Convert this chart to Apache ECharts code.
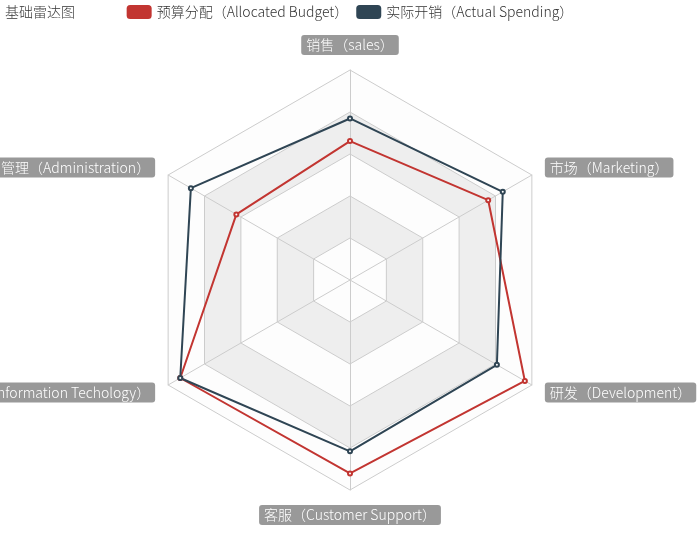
<!DOCTYPE html>
<html><head><meta charset="utf-8">
<script src="https://cdn.jsdelivr.net/npm/echarts@6/dist/echarts.min.js"></script>
<style>html,body{margin:0;padding:0;background:#fff}#c{width:700px;height:560px}</style>
</head><body><div id="c"></div>
<script>
const indicatorNames = ['销售（sales）','管理（Administration）','信息技术（Information Techology）','客服（Customer Support）','研发（Development）','市场（Marketing）'];
const indicatorMax = [6500, 16000, 30000, 38000, 52000, 25000];
const budget = [4300, 10000, 28000, 35000, 50000, 19000];
const spending = [5000, 14000, 28000, 31000, 42000, 21000];
const seriesNames = ['预算分配（Allocated Budget）','实际开销（Actual Spending）'];
const chart = echarts.init(document.getElementById('c'));
chart.setOption({
  color: ['#c23531','#2f4554'],
  textStyle: {fontFamily: 'Noto Sans CJK SC', fontWeight: 300},
  title: {text: '基础雷达图', left: 0, top: 0, textStyle: {fontSize: 14, fontWeight: 300, color: '#333'}},
  legend: {data: seriesNames, top: 0, itemWidth: 25, itemHeight: 14, textStyle: {fontSize: 14, color: '#333'}},
  radar: {
    center: ['50%', '50%'],
    radius: 210,
    indicator: indicatorNames.map((n,i)=>({name:n, max: indicatorMax[i]})),
    axisName: {color:'#fff', backgroundColor:'#999', borderRadius:3, padding:[3,5], fontSize: 14},
    splitArea: {areaStyle: {color: ['rgba(250,250,250,0.3)','rgba(200,200,200,0.3)']}},
    splitLine: {lineStyle: {color: '#ccc'}},
    axisLine: {lineStyle: {color: '#ccc'}}
  },
  series: [{
    type: 'radar',
    symbol: 'emptyCircle', symbolSize: 4,
    lineStyle: {width: 2},
    data: [
      {value: budget, name: seriesNames[0]},
      {value: spending, name: seriesNames[1]}
    ]
  }]
});
</script></body></html>
